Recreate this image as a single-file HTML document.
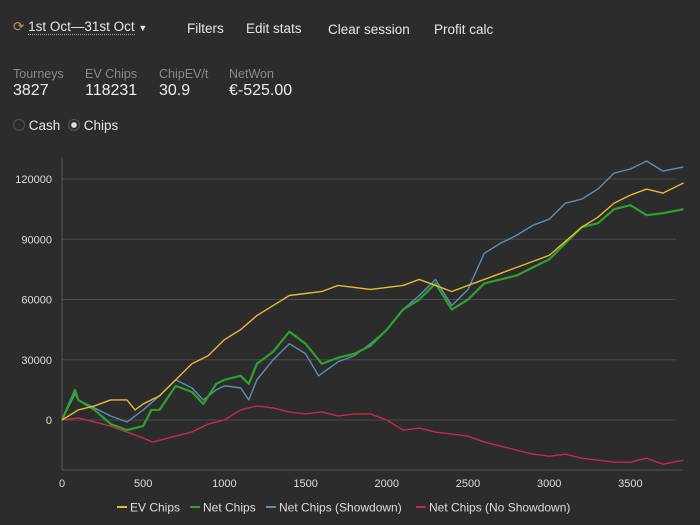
<!DOCTYPE html>
<html><head><meta charset="utf-8"><style>
body{margin:0;width:700px;height:525px;background:#2c2c2c;font-family:"Liberation Sans",sans-serif;color:#e6e6e6;overflow:hidden;position:relative}
.abs{position:absolute;white-space:nowrap}
.lbl{color:#8a8a8a;font-size:12.5px}
.val{font-size:16px;color:#eee}
</style></head><body>
<div class="abs" style="left:13px;top:19px;font-size:13.5px">
<span style="color:#c8955a">⟳</span>
<span style="border-bottom:1px dotted #aaa">1st Oct—31st Oct</span> <span style="font-size:9px">▼</span></div>
<div class="abs" style="left:187px;top:21px;font-size:13.5px">Filters</div>
<div class="abs" style="left:246px;top:21px;font-size:13.5px">Edit stats</div>
<div class="abs" style="left:328px;top:22px;font-size:13.5px">Clear session</div>
<div class="abs" style="left:434px;top:22px;font-size:13.5px">Profit calc</div>
<div class="abs lbl" style="left:13px;top:67px">Tourneys</div>
<div class="abs val" style="left:13px;top:82px">3827</div>
<div class="abs lbl" style="left:85px;top:67px">EV Chips</div>
<div class="abs val" style="left:85px;top:82px">118231</div>
<div class="abs lbl" style="left:159px;top:67px">ChipEV/t</div>
<div class="abs val" style="left:159px;top:82px">30.9</div>
<div class="abs lbl" style="left:229px;top:67px">NetWon</div>
<div class="abs val" style="left:229px;top:82px">€-525.00</div>
<div class="abs" style="left:13px;top:118px;font-size:13.5px"><span style="display:inline-block;width:10px;height:10px;border:1px solid #555;border-radius:50%;vertical-align:-1px"></span> Cash</div>
<div class="abs" style="left:68px;top:118px;font-size:13.5px"><span style="display:inline-block;width:10px;height:10px;border:1px solid #555;border-radius:50%;vertical-align:-1px;background:radial-gradient(#ddd 35%,transparent 45%)"></span> Chips</div>
<svg id="chart" width="700" height="525" style="position:absolute;left:0;top:0"></svg>
<script>
const yTicks=[0,30000,60000,90000,120000];
const xTicks=[0,500,1000,1500,2000,2500,3000,3500];
const evX=[0,100,200,300,400,450,500,600,700,800,900,1000,1100,1200,1300,1400,1500,1600,1700,1800,1900,2000,2100,2200,2300,2400,2500,2600,2700,2800,2900,3000,3100,3200,3300,3400,3500,3600,3700,3827];
const evY=[0,5000,7000,10000,10000,5000,8000,12000,20000,28000,32000,40000,45000,52000,57000,62000,63000,64000,67000,66000,65000,66000,67000,70000,67000,64000,67000,70000,73000,76000,79000,82000,89000,96000,101000,108000,112000,115000,113000,118000];
const netX=[0,80,100,200,300,400,500,550,600,700,800,870,950,1000,1100,1150,1200,1300,1400,1500,1600,1700,1800,1900,2000,2100,2200,2300,2400,2500,2600,2700,2800,2900,3000,3100,3200,3300,3400,3500,3600,3700,3827];
const netY=[0,15000,10000,5000,-2000,-5000,-3000,5000,5000,17000,14000,8000,18000,20000,22000,18000,28000,34000,44000,38000,28000,31000,33000,37000,45000,55000,60000,68000,55000,60000,68000,70000,72000,76000,80000,88000,96000,98000,105000,107000,102000,103000,105000];
const sdX=[0,80,100,200,300,400,500,600,700,800,870,950,1000,1100,1150,1200,1300,1400,1500,1580,1700,1800,1900,2000,2100,2200,2300,2400,2500,2600,2700,2800,2900,3000,3100,3200,3300,3400,3500,3600,3700,3827];
const sdY=[0,13000,10000,6000,2000,-1000,5000,12000,20000,16000,10000,15000,17000,16000,10000,20000,30000,38000,33000,22000,29000,32000,38000,45000,55000,62000,70000,57000,65000,83000,88000,92000,97000,100000,108000,110000,115000,123000,125000,129000,124000,126000];
const nsdX=[0,100,200,300,400,500,560,700,800,900,1000,1100,1200,1300,1400,1500,1600,1700,1800,1900,2000,2100,2200,2300,2400,2500,2600,2700,2800,2900,3000,3100,3200,3300,3400,3500,3600,3700,3827];
const nsdY=[0,1000,-1000,-3000,-6000,-9000,-11000,-8000,-6000,-2000,0,5000,7000,6000,4000,3000,4000,2000,3000,3000,0,-5000,-4000,-6000,-7000,-8000,-11000,-13000,-15000,-17000,-18000,-17000,-19000,-20000,-21000,-21000,-19000,-22000,-20000];
const seriesNames=["EV Chips","Net Chips","Net Chips (Showdown)","Net Chips (No Showdown)"];
const svg=document.getElementById('chart');const NS='http://www.w3.org/2000/svg';
const X=v=>62+v*0.1624, Y=v=>420-v*0.002008;
function mk(t,a){const e=document.createElementNS(NS,t);for(const k in a)e.setAttribute(k,a[k]);svg.appendChild(e);return e;}
yTicks.forEach(t=>{const l=mk('line',{x1:62,x2:676,y1:Y(t),y2:Y(t),stroke:'#4a4a4a'});


const tx=mk('text',{x:52,y:Y(t)+4,'text-anchor':'end',fill:'#ddd','font-size':11,'font-family':'Liberation Sans'});tx.textContent=t;

});
const ax=mk('line',{x1:62,x2:62,y1:157,y2:470,stroke:'#555'});


const bx=mk('line',{x1:62,x2:683,y1:470,y2:470,stroke:'#555'});


xTicks.forEach(t=>{const tx=mk('text',{x:X(t),y:487,'text-anchor':'middle',fill:'#ddd','font-size':11,'font-family':'Liberation Sans'});tx.textContent=t;

});
const cols=['#e8b838','#2ea12e','#5b8fb8','#c8294a'];
[[evX,evY],[netX,netY],[sdX,sdY],[nsdX,nsdY]].map((s,i)=>[s,i]).reverse().forEach(([s,i])=>{
const p=mk('polyline',{points:s[0].map((x,j)=>X(x)+','+Y(s[1][j])).join(' '),fill:'none',stroke:cols[i],'stroke-width':i==1?2.2:1.4,'stroke-linejoin':'round'});

});
const lx=[117,190,266,416];
seriesNames.forEach((n,i)=>{const l=mk('line',{x1:lx[i],x2:lx[i]+10,y1:507,y2:507,stroke:cols[i],'stroke-width':2});


const t=mk('text',{x:lx[i]+13,y:511.5,fill:'#ddd','font-size':12,'font-family':'Liberation Sans'});t.textContent=n;

});
</script>
</body></html>
